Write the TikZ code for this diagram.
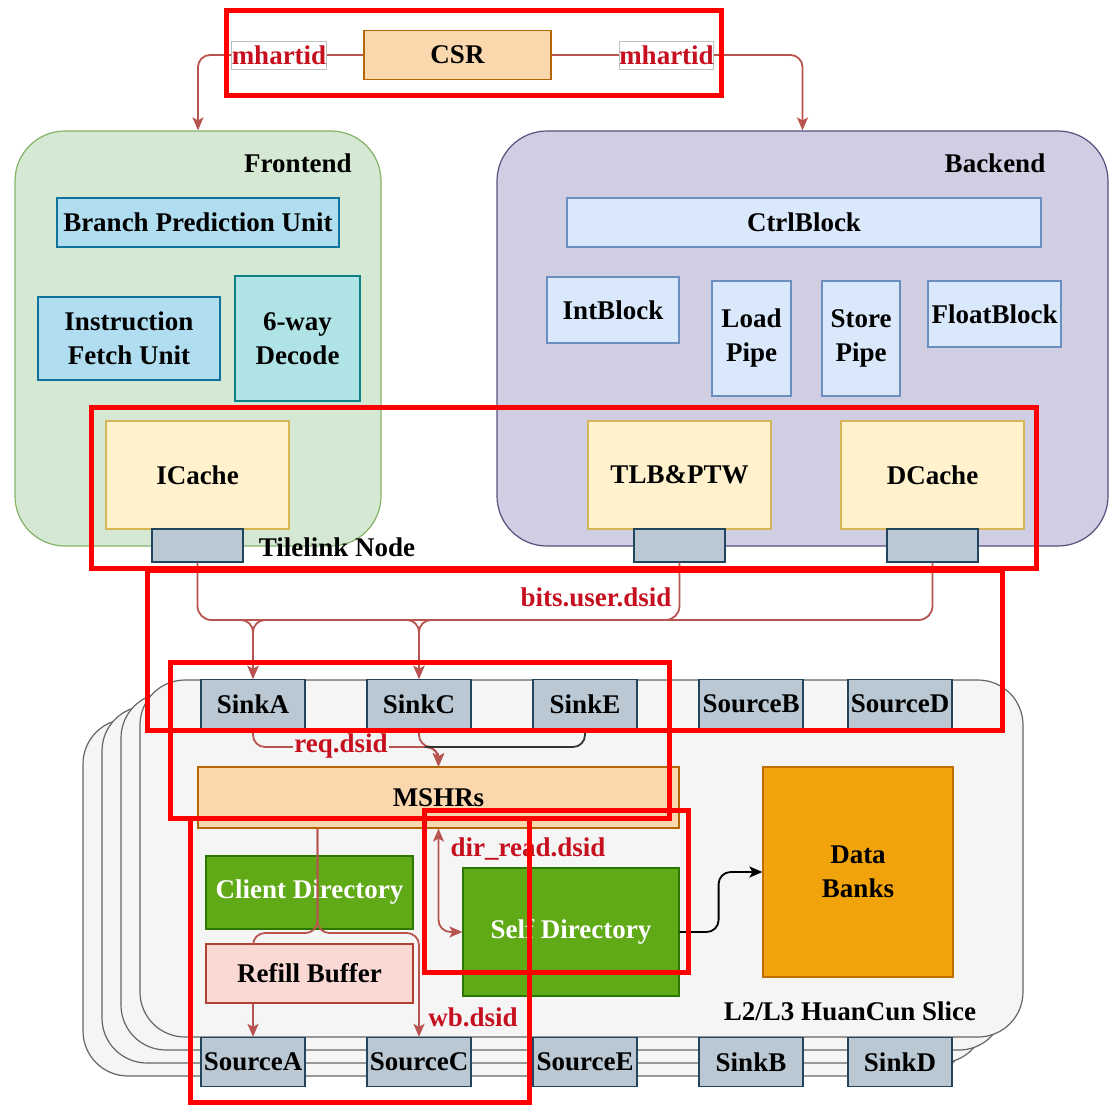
\documentclass[tikz,border=0pt]{standalone}
\usepackage{fontspec}
\setmainfont{Liberation Serif}
\usetikzlibrary{arrows.meta,calc}
\definecolor{feF}{HTML}{D5E8D4}\definecolor{feD}{HTML}{82B366}
\definecolor{beF}{HTML}{D0CEE2}\definecolor{beD}{HTML}{56517E}
\definecolor{blF}{HTML}{B1DDF0}\definecolor{blD}{HTML}{10739E}
\definecolor{tqF}{HTML}{B0E3E6}\definecolor{tqD}{HTML}{0E8088}
\definecolor{ylF}{HTML}{FFF2CC}\definecolor{ylD}{HTML}{D6B656}
\definecolor{gyF}{HTML}{BAC8D3}\definecolor{gyD}{HTML}{23445D}
\definecolor{lbF}{HTML}{DAE8FC}\definecolor{lbD}{HTML}{6C8EBF}
\definecolor{orF}{HTML}{FAD7AC}\definecolor{orD}{HTML}{B46504}
\definecolor{grF}{HTML}{60A917}\definecolor{grD}{HTML}{2D7600}
\definecolor{pkF}{HTML}{FAD9D5}\definecolor{pkD}{HTML}{AE4132}
\definecolor{dbF}{HTML}{F0A30A}\definecolor{dbD}{HTML}{BD7000}
\definecolor{slF}{HTML}{F5F5F5}\definecolor{slD}{HTML}{666666}
\definecolor{connC}{HTML}{B85450}
\definecolor{labred}{HTML}{C7101F}
\newcommand{\fsz}{\fontsize{27}{34}\selectfont}
\tikzset{
  base/.style={draw, line width=1.2pt, inner sep=0pt, align=center, font=\fsz\bfseries},
  frontbox/.style={base, fill=feF, draw=feD, rounded corners=50pt},
  backbox/.style={base, fill=beF, draw=beD, rounded corners=50pt},
  bluebox/.style={base, fill=blF, draw=blD},
  tealbox/.style={base, fill=tqF, draw=tqD, line width=2pt},
  yelbox/.style={base, fill=ylF, draw=ylD},
  tlbox/.style={base, fill=gyF, draw=gyD},
  ltbox/.style={base, fill=lbF, draw=lbD},
  orbox/.style={base, fill=orF, draw=orD},
  grbox/.style={base, fill=grF, draw=grD, text=white},
  pkbox/.style={base, fill=pkF, draw=pkD},
  dbbox/.style={base, fill=dbF, draw=dbD},
  slicebox/.style={base, fill=slF, draw=slD, rounded corners=45pt, minimum width=883pt, minimum height=357pt},
  port/.style={tlbox, minimum width=104pt, minimum height=49pt},
  mhlab/.style={base, fill=white, draw=black!25, line width=0.8pt, text=labred, minimum width=94pt, minimum height=28pt},
  txt/.style={inner sep=0pt, font=\fsz\bfseries},
  redtxt/.style={txt, text=labred},
  conn/.style={draw=connC, line width=1.8pt, rounded corners=12pt},
  darkconn/.style={draw=black!80, line width=1.8pt, rounded corners=12pt},
  arr/.style={-{Stealth[length=13pt,width=11pt,inset=3pt]}},
  darr/.style={{Stealth[length=13pt,width=11pt,inset=3pt]}-{Stealth[length=13pt,width=11pt,inset=3pt]}},
  ann/.style={draw=red, line width=5pt}
}
\begin{document}
\begin{tikzpicture}[x=1pt,y=-1pt]
\useasboundingbox (0,0) rectangle (1109,1106);

% ---------- CSR ----------
\node[orbox, minimum width=187pt, minimum height=49pt] (csr) at (457.5,55) {CSR};
\node[mhlab] (mh1) at (279,55) {mhartid};
\node[mhlab] (mh2) at (666.5,55) {mhartid};

% ---------- Frontend ----------
\node[frontbox, minimum width=366pt, minimum height=415pt] (front) at (198,338.5) {};
\node[txt] (felab) at (298,163) {Frontend};
\node[bluebox, minimum width=282pt, minimum height=49pt] (bpu) at (198,222.5) {Branch Prediction Unit};
\node[bluebox, minimum width=182pt, minimum height=83pt] (ifu) at (129,338.5) {Instruction\\Fetch Unit};
\node[tealbox, minimum width=125pt, minimum height=125pt] (dec) at (297.5,338.5) {6-way\\Decode};
\node[yelbox, minimum width=183pt, minimum height=108pt] (icache) at (197.5,475) {ICache};

% ---------- Backend ----------
\node[backbox, minimum width=611pt, minimum height=415pt] (back) at (802.5,338.5) {};
\node[txt] (belab) at (995,163) {Backend};
\node[ltbox, minimum width=474pt, minimum height=49pt] (ctrl) at (804,222.5) {CtrlBlock};
\node[ltbox, minimum width=132pt, minimum height=66pt] (intb) at (613,310) {IntBlock};
\node[ltbox, minimum width=79pt, minimum height=115pt] (load) at (751.5,338.5) {Load\\Pipe};
\node[ltbox, minimum width=78pt, minimum height=115pt] (store) at (861,338.5) {Store\\Pipe};
\node[ltbox, minimum width=133pt, minimum height=66pt] (floatb) at (994.5,314) {FloatBlock};
\node[yelbox, minimum width=183pt, minimum height=108pt] (tlb) at (679.5,475) {TLB\&PTW};
\node[yelbox, minimum width=183pt, minimum height=108pt] (dcache) at (932.5,475) {DCache};

% Tilelink nodes
\node[tlbox, minimum width=91pt, minimum height=33pt] (tl1) at (197.5,545.5) {};
\node[tlbox, minimum width=91pt, minimum height=33pt] (tl2) at (679.5,545.5) {};
\node[tlbox, minimum width=91pt, minimum height=33pt] (tl3) at (932.5,545.5) {};
\node[txt] (tllab) at (337,547) {Tilelink Node};

% ---------- HuanCun slices ----------
\node[slicebox] (s3) at (524.5,897.5) {};
\node[slicebox] (s2) at (543.5,884.5) {};
\node[slicebox] (s1) at (562.5,871.5) {};
\node[slicebox] (slice) at (581.5,858.5) {};
\node[txt] (slicelab) at (850,1011) {L2/L3 HuanCun Slice};

\node[port] (sinkA) at (253,704) {SinkA};
\node[port] (sinkC) at (419,704) {SinkC};
\node[port] (sinkE) at (585,704) {SinkE};
\node[port] (sourceB) at (751,704) {SourceB};
\node[port] (sourceD) at (900,704) {SourceD};
\node[port] (sourceA) at (253,1062) {SourceA};
\node[port] (sourceC) at (419,1062) {SourceC};
\node[port] (sourceE) at (585,1062) {SourceE};
\node[port] (sinkB) at (751,1062) {SinkB};
\node[port] (sinkD) at (900,1062) {SinkD};

\node[orbox, minimum width=481pt, minimum height=61pt] (mshr) at (438.5,797.5) {MSHRs};
\node[grbox, minimum width=207pt, minimum height=73pt] (cdir) at (309.5,892.5) {Client Directory};
\node[pkbox, minimum width=207pt, minimum height=59pt] (refill) at (309.5,973.5) {Refill Buffer};
\node[grbox, minimum width=216pt, minimum height=128pt] (sdir) at (571,932) {Self Directory};
\node[dbbox, minimum width=190pt, minimum height=210pt] (banks) at (858,872) {Data\\Banks};

% ---------- connectors ----------
% CSR -> Frontend / Backend
\draw[conn] (csr.west) -- (mh1.east);
\draw[conn, arr] (mh1.west) -| (front.north);
\draw[conn] (csr.east) -- (mh2.west);
\draw[conn, arr] (mh2.east) -| (back.north);

% bits.user.dsid bus
\coordinate (bus) at (0,620);
\draw[conn, rounded corners=14pt] (tl1.south) -- (tl1.south |- bus) -- (tl3.south |- bus) -- (tl3.south);
\draw[conn, rounded corners=14pt] (tl2.south) -- (tl2.south |- bus) -- ($(tl2.south |- bus)+(-30,0)$);
\draw[conn, arr] ($(sinkA.north |- bus)+(-24,0)$) -- (sinkA.north |- bus) -- (sinkA.north);
\draw[conn, arr] ($(sinkA.north |- bus)+(24,0)$) -- (sinkA.north |- bus) -- (sinkA.north);
\draw[conn, arr] ($(sinkC.north |- bus)+(-24,0)$) -- (sinkC.north |- bus) -- (sinkC.north);
\draw[conn, arr] ($(sinkC.north |- bus)+(24,0)$) -- (sinkC.north |- bus) -- (sinkC.north);
\node[redtxt] (bitslab) at (596,597) {bits.user.dsid};

% req.dsid
\coordinate (reqy) at (0,747);
\draw[conn, arr] (sinkA.south) -- (sinkA.south |- reqy) -- (mshr.north |- reqy) -- (mshr.north);
\draw[conn, arr] (sinkC.south) -- (sinkC.south |- reqy) -- (mshr.north |- reqy) -- (mshr.north);
\draw[darkconn] (sinkE.south) -- (sinkE.south |- reqy) -- ($(mshr.north |- reqy)+(-14,0)$);
\draw[conn, arr, rounded corners=0pt] ($(mshr.north |- reqy)+(0,6)$) -- (mshr.north);
\node[redtxt, fill=slF, inner sep=1pt] (reqlab) at (341,746) {req.dsid};

% MSHRs -> Refill Buffer / SourceC
\coordinate (ms) at ($(mshr.south west)+(120,0)$);
\coordinate (spl) at (0,933);
\draw[conn] (ms) -- (ms |- spl) -- (sourceA.north |- spl) -- (sourceA.north |- refill.north);
\draw[conn, arr] (ms) -- (ms |- spl) -- (sourceC.north |- spl) -- (sourceC.north);
\draw[conn, arr] (sourceA.north |- refill.south) -- (sourceA.north);
\node[redtxt] (wblab) at (473,1017) {wb.dsid};

% dir_read.dsid
\draw[conn, darr] (mshr.south) -- (mshr.south |- sdir.west) -- (sdir.west);
\node[redtxt] (dirlab) at (528,849) {dir\_read.dsid};

% Self Directory -> Data Banks
\draw[darkconn, draw=black, arr] (sdir.east) -- ++(39,0) |- (banks.west);

% ---------- red annotation frames ----------
\draw[ann] (226,10) rectangle (721,95);
\draw[ann] (91,407) rectangle (1036,568);
\draw[ann] (147,570) rectangle (1002,730);
\draw[ann] (170,662) rectangle (669,818);
\draw[ann] (190,818) rectangle (529,1102);
\draw[ann] (424,810) rectangle (688,972);
\end{tikzpicture}
\end{document}
